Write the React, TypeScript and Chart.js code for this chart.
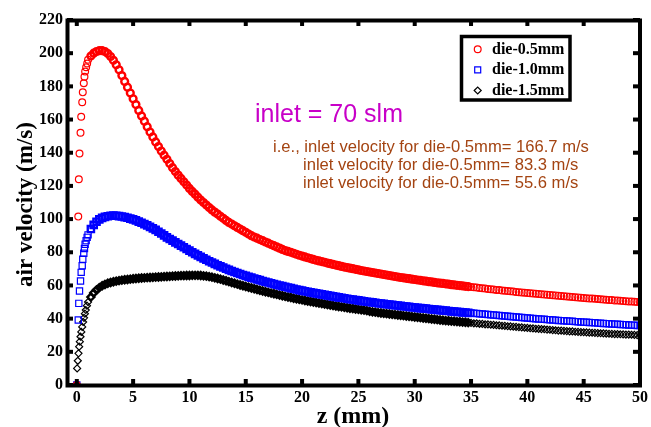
import React, { useEffect, useRef } from 'react';
import { Chart, registerables } from 'chart.js';

Chart.register(...registerables);

// ---- data ----
const xTickValues = [0, 5, 10, 15, 20, 25, 30, 35, 40, 45, 50];
const yTickValues = [0, 20, 40, 60, 80, 100, 120, 140, 160, 180, 200, 220];

const seriesNames = ['die-0.5mm', 'die-1.0mm', 'die-1.5mm'];

// early (near-inlet) positions, mm
const zEarlyRedBlue = [0, 0.13, 0.18, 0.24, 0.33, 0.39, 0.48, 0.53, 0.62, 0.68, 0.74, 0.83, 0.92];
const zEarlyBlack = [0, 0.03, 0.09, 0.15, 0.21, 0.27, 0.33, 0.4, 0.48, 0.56, 0.64, 0.72, 0.8, 0.9];

// main positions, mm
const zMain = [
  1, 1.25, 1.5, 1.75, 2, 2.25, 2.5, 2.75, 3, 3.25, 3.5, 3.75, 4, 4.25, 4.5, 4.75,
  5, 5.25, 5.5, 5.75, 6, 6.25, 6.5, 6.75, 7, 7.25, 7.5, 7.75, 8, 8.25, 8.5, 8.75,
  9, 9.25, 9.5, 9.75, 10, 10.25, 10.5, 10.75, 11, 11.25, 11.5, 11.75, 12, 12.25, 12.5, 12.75,
  13, 13.25, 13.5, 13.75, 14, 14.25, 14.5, 14.75, 15, 15.25, 15.5, 15.75, 16, 16.25, 16.5, 16.75,
  17, 17.25, 17.5, 17.75, 18, 18.25, 18.5, 18.75, 19, 19.25, 19.5, 19.75, 20, 20.25, 20.5, 20.75,
  21, 21.25, 21.5, 21.75, 22, 22.25, 22.5, 22.75, 23, 23.25, 23.5, 23.75, 24, 24.25, 24.5, 24.75,
  25, 25.25, 25.5, 25.75, 26, 26.25, 26.5, 26.75, 27, 27.25, 27.5, 27.75, 28, 28.25, 28.5, 28.75,
  29, 29.25, 29.5, 29.75, 30, 30.25, 30.5, 30.75, 31, 31.25, 31.5, 31.75, 32, 32.25, 32.5, 32.75,
  33, 33.25, 33.5, 33.75, 34, 34.25, 34.5, 34.75, 35, 35.25, 35.5, 35.75, 36, 36.25, 36.5, 36.75,
  37, 37.25, 37.5, 37.75, 38, 38.25, 38.5, 38.75, 39, 39.25, 39.5, 39.75, 40, 40.25, 40.5, 40.75,
  41, 41.25, 41.5, 41.75, 42, 42.25, 42.5, 42.75, 43, 43.25, 43.5, 43.75, 44, 44.25, 44.5, 44.75,
  45, 45.25, 45.5, 45.75, 46, 46.25, 46.5, 46.75, 47, 47.25, 47.5, 47.75, 48, 48.25, 48.5, 48.75,
  49, 49.25, 49.5, 49.75, 50,
];

// air velocity, m/s
const redEarly = [0, 101.5, 124, 139.5, 152, 161.7, 170.4, 176.4, 181.9, 185.8, 188.9, 191.5, 193.8];
const redMain = [
  196, 198.3, 200, 201, 201.5, 201.5, 201, 199.8, 198, 195.7, 193, 190, 186.5, 183, 179.5, 176,
  172.5, 169, 165.5, 162.2, 159, 155.7, 152.5, 149.5, 146.5, 143.7, 141, 138.5, 136, 133.5, 131, 128.7,
  126.5, 124.5, 122.5, 120.5, 118.5, 116.7, 115, 113.2, 111.5, 110, 108.5, 107, 105.5, 104.2, 103, 101.7,
  100.5, 99.2, 98, 97, 96, 95, 94, 93, 92, 91, 90, 89.2, 88.5, 87.7, 87, 86.2,
  85.5, 84.7, 84, 83.2, 82.5, 81.7, 81, 80.5, 80, 79.4, 78.8, 78.2, 77.7, 77.2, 76.7, 76.2,
  75.7, 75.2, 74.8, 74.4, 74, 73.5, 73.1, 72.7, 72.3, 71.9, 71.5, 71.1, 70.8, 70.4, 70.1, 69.7,
  69.4, 69.0, 68.7, 68.4, 68.1, 67.8, 67.5, 67.2, 66.9, 66.6, 66.3, 66.0, 65.7, 65.4, 65.1, 64.8,
  64.6, 64.3, 64.1, 63.8, 63.6, 63.3, 63.1, 62.8, 62.6, 62.3, 62.1, 61.8, 61.6, 61.4, 61.2, 61.0,
  60.8, 60.5, 60.3, 60.1, 59.9, 59.7, 59.5, 59.3, 59.1, 58.9, 58.7, 58.5, 58.3, 58.1, 57.9, 57.7,
  57.5, 57.3, 57.2, 57.0, 56.8, 56.6, 56.5, 56.3, 56.1, 55.9, 55.8, 55.6, 55.5, 55.3, 55.2, 55.0,
  54.9, 54.7, 54.6, 54.4, 54.3, 54.1, 54.0, 53.8, 53.7, 53.5, 53.4, 53.2, 53.1, 52.9, 52.8, 52.6,
  52.5, 52.3, 52.2, 52.1, 52.0, 51.8, 51.7, 51.5, 51.4, 51.3, 51.2, 51.0, 50.9, 50.8, 50.7, 50.5,
  50.4, 50.3, 50.2, 50.1, 50.0,
];

const blueEarly = [0, 39.2, 49.2, 56.7, 62.7, 67.9, 71.9, 75.8, 79.4, 82.3, 84.8, 87, 89];
const blueMain = [
  90.5, 94, 96.5, 98.4, 99.8, 100.7, 101.3, 101.7, 102, 102.1, 102, 101.8, 101.6, 101.2, 100.8, 100.3,
  99.8, 99.2, 98.5, 97.8, 97, 96.2, 95.3, 94.4, 93.5, 92.4, 91.3, 90.2, 89, 88, 87, 86,
  85, 84, 83, 82, 81, 80, 79, 78.1, 77.2, 76.3, 75.5, 74.6, 73.8, 73, 72.2, 71.5,
  70.8, 70.1, 69.4, 68.7, 68.1, 67.5, 66.9, 66.3, 65.8, 65.2, 64.7, 64.2, 63.7, 63.2, 62.7, 62.2,
  61.8, 61.3, 60.9, 60.4, 60, 59.6, 59.2, 58.8, 58.4, 58.0, 57.6, 57.2, 56.9, 56.5, 56.2, 55.8,
  55.5, 55.2, 54.9, 54.6, 54.3, 54.0, 53.7, 53.4, 53.1, 52.8, 52.6, 52.3, 52.0, 51.7, 51.5, 51.2,
  51.0, 50.7, 50.5, 50.2, 50.0, 49.8, 49.6, 49.3, 49.1, 48.9, 48.7, 48.5, 48.3, 48.1, 47.9, 47.7,
  47.5, 47.3, 47.1, 46.9, 46.7, 46.5, 46.3, 46.2, 46.0, 45.8, 45.6, 45.5, 45.3, 45.1, 44.9, 44.8,
  44.6, 44.4, 44.3, 44.1, 44.0, 43.8, 43.7, 43.5, 43.4, 43.2, 43.1, 42.9, 42.8, 42.6, 42.5, 42.3,
  42.2, 42.0, 41.9, 41.7, 41.6, 41.4, 41.3, 41.1, 41.0, 40.8, 40.7, 40.5, 40.4, 40.2, 40.1, 39.9,
  39.8, 39.7, 39.6, 39.4, 39.3, 39.2, 39.1, 38.9, 38.8, 38.7, 38.6, 38.5, 38.4, 38.2, 38.1, 38.0,
  37.9, 37.8, 37.7, 37.6, 37.5, 37.3, 37.2, 37.1, 37.0, 36.9, 36.8, 36.7, 36.6, 36.5, 36.4, 36.3,
  36.2, 36.1, 36.0, 35.9, 35.8,
];

const blackEarly = [0, 10, 14.6, 19.1, 23.1, 26.1, 29.1, 32, 35, 38, 40.5, 43, 45.2, 47.8];
const blackMain = [
  50, 53, 55.5, 57.3, 58.7, 59.8, 60.6, 61.3, 61.8, 62.2, 62.6, 62.9, 63.2, 63.4, 63.6, 63.8,
  64, 64.2, 64.3, 64.5, 64.6, 64.7, 64.8, 64.9, 65, 65.1, 65.2, 65.3, 65.4, 65.5, 65.6, 65.7,
  65.8, 65.9, 65.9, 66, 66, 66.1, 66.1, 66.1, 66, 65.8, 65.6, 65.3, 65, 64.6, 64.2, 63.8,
  63.3, 62.8, 62.3, 61.8, 61.3, 60.8, 60.3, 59.8, 59.4, 58.9, 58.5, 58.0, 57.6, 57.1, 56.7, 56.2,
  55.8, 55.4, 55, 54.6, 54.2, 53.8, 53.4, 53.0, 52.7, 52.3, 52.0, 51.6, 51.3, 50.9, 50.6, 50.3,
  50.0, 49.7, 49.4, 49.1, 48.8, 48.5, 48.2, 47.9, 47.6, 47.3, 47.1, 46.8, 46.6, 46.3, 46.1, 45.8,
  45.6, 45.3, 45.1, 44.8, 44.4, 44.1, 43.9, 43.6, 43.4, 43.2, 43.0, 42.8, 42.6, 42.4, 42.2, 42.0,
  41.8, 41.6, 41.4, 41.2, 41.0, 40.8, 40.6, 40.4, 40.2, 40.0, 39.8, 39.6, 39.4, 39.2, 39.0, 38.8,
  38.7, 38.5, 38.4, 38.2, 38.1, 37.9, 37.8, 37.6, 37.4, 37.2, 37.1, 36.9, 36.8, 36.6, 36.5, 36.3,
  36.2, 36.0, 35.9, 35.7, 35.6, 35.4, 35.3, 35.1, 35.0, 34.8, 34.7, 34.5, 34.4, 34.2, 34.1, 33.9,
  33.8, 33.7, 33.6, 33.4, 33.3, 33.1, 33.0, 32.8, 32.8, 32.6, 32.5, 32.3, 32.3, 32.1, 32.0, 31.9,
  31.8, 31.7, 31.6, 31.5, 31.4, 31.3, 31.2, 31.1, 31.0, 30.9, 30.8, 30.7, 30.7, 30.6, 30.5, 30.4,
  30.4, 30.3, 30.2, 30.1, 30.1,
];

const titleText = 'inlet = 70 slm';
const noteLines = [
  'i.e., inlet velocity for die-0.5mm= 166.7 m/s',
  'inlet velocity for die-0.5mm= 83.3 m/s',
  'inlet velocity for die-0.5mm= 55.6 m/s',
];
const xTitle = 'z (mm)';
const yTitle = 'air velocity (m/s)';

const SERIF = "'Liberation Serif', 'Times New Roman', serif";
const SANS = "'Liberation Sans', Arial, sans-serif";

function toPoints(zs: number[], vs: number[]) {
  return zs.map((z, i) => ({ x: z, y: vs[i] }));
}

// markers are plotted very densely between ~1 and ~35 mm in the original
const denseStroke = (c: any) => {
  const z = c.raw ? c.raw.x : 0;
  return z >= 1.2 && z <= 34.8 ? 2.4 : 1.2;
};

function drawMarker(ctx: CanvasRenderingContext2D, kind: string, x: number, y: number, color: string) {
  ctx.save();
  ctx.strokeStyle = color;
  ctx.lineWidth = 1.2;
  ctx.beginPath();
  if (kind === 'circle') {
    ctx.arc(x, y, 3.4, 0, Math.PI * 2);
  } else if (kind === 'rect') {
    ctx.rect(x - 3, y - 3, 6, 6);
  } else {
    ctx.moveTo(x - 3.5, y);
    ctx.lineTo(x, y - 3.5);
    ctx.lineTo(x + 3.5, y);
    ctx.lineTo(x, y + 3.5);
    ctx.closePath();
  }
  ctx.stroke();
  ctx.restore();
}

const decorPlugin = {
  id: 'decor',
  afterDraw(chart: any) {
    const ctx: CanvasRenderingContext2D = chart.ctx;
    const { left, right, top, bottom } = chart.chartArea;
    const xs = chart.scales.x;
    const ys = chart.scales.y;
    ctx.save();
    // frame
    ctx.strokeStyle = '#000';
    ctx.lineWidth = 4;
    ctx.strokeRect(left + 0.5, top + 0.5, right - left - 0.5, bottom - top);
    // inward ticks
    ctx.fillStyle = '#000';
    xTickValues.forEach((v) => {
      const px = xs.getPixelForValue(v);
      ctx.fillRect(px - 2, bottom - 6, 4, 6);
      ctx.fillRect(px - 2, top, 4, 6);
    });
    yTickValues.forEach((v) => {
      const py = ys.getPixelForValue(v);
      ctx.fillRect(left, py - 2, 6, 4);
      ctx.fillRect(right - 7, py - 2, 7, 4);
    });

    // axis titles
    ctx.fillStyle = '#000';
    ctx.font = `bold 24px ${SERIF}`;
    ctx.textAlign = 'center';
    ctx.textBaseline = 'alphabetic';
    ctx.fillText(xTitle, 353, 423);
    ctx.save();
    ctx.translate(31.5, 204.5);
    ctx.rotate(-Math.PI / 2);
    ctx.font = `bold 23px ${SERIF}`;
    ctx.fillText(yTitle, 0, 0);
    ctx.restore();

    // legend
    ctx.lineWidth = 3.5;
    ctx.strokeStyle = '#000';
    ctx.strokeRect(461.5, 36.5, 108.5, 63.5);
    const colors = ['#ff0000', '#0000ff', '#000000'];
    const kinds = ['circle', 'rect', 'diamond'];
    const rowY = [49.3, 69.8, 90.5];
    ctx.font = `bold 16px ${SERIF}`;
    ctx.textAlign = 'left';
    ctx.textBaseline = 'middle';
    seriesNames.forEach((name, i) => {
      drawMarker(ctx, kinds[i], 477.7, rowY[i], colors[i]);
      ctx.fillStyle = '#000';
      ctx.fillText(name, 492, rowY[i] + 0.5);
    });

    // annotations
    ctx.textBaseline = 'alphabetic';
    ctx.fillStyle = '#c800c8';
    ctx.font = `25px ${SANS}`;
    ctx.fillText(titleText, 255, 121.5);
    ctx.fillStyle = '#a44412';
    ctx.font = `16.6px ${SANS}`;
    ctx.fillText(noteLines[0], 273, 151.5);
    ctx.fillText(noteLines[1], 303, 169.5);
    ctx.fillText(noteLines[2], 303, 187.5);
    ctx.restore();
  },
};

export default function App() {
  const ref = useRef<HTMLCanvasElement>(null);
  useEffect(() => {
    document.body.style.margin = '0';
    const canvas = ref.current;
    if (!canvas) return;
    const chart = new Chart(canvas, {
      type: 'scatter',
      data: {
        datasets: [
          {
            label: seriesNames[0],
            data: toPoints(zEarlyRedBlue.concat(zMain), redEarly.concat(redMain)),
            pointStyle: 'circle',
            pointRadius: 3.4,
            borderColor: '#ff0000',
            backgroundColor: 'rgba(0,0,0,0)',
            pointBorderWidth: denseStroke,
            showLine: false,
          },
          {
            label: seriesNames[1],
            data: toPoints(zEarlyRedBlue.concat(zMain), blueEarly.concat(blueMain)),
            pointStyle: 'rect',
            pointRadius: 4.4,
            borderColor: '#0000ff',
            backgroundColor: 'rgba(0,0,0,0)',
            pointBorderWidth: denseStroke,
            showLine: false,
          },
          {
            label: seriesNames[2],
            data: toPoints(zEarlyBlack.concat(zMain), blackEarly.concat(blackMain)),
            pointStyle: 'rectRot',
            pointRadius: 3.5,
            borderColor: '#000000',
            backgroundColor: 'rgba(0,0,0,0)',
            pointBorderWidth: denseStroke,
            showLine: false,
          },
        ],
      },
      options: {
        animation: false,
        responsive: false,
        devicePixelRatio: 1,
        events: [],
        layout: { padding: { left: 0, right: 9, top: 20, bottom: 0 } },
        plugins: {
          legend: { display: false },
          tooltip: { enabled: false },
        },
        scales: {
          x: {
            type: 'linear',
            min: -0.87,
            max: 50,
            grid: { display: false, drawTicks: false },
            border: { display: false },
            ticks: {
              padding: 3,
              color: '#000',
              font: { family: SERIF, size: 16, weight: 'bold' },
              autoSkip: false,
              maxRotation: 0,
            },
            afterBuildTicks: (scale: any) => {
              scale.ticks = xTickValues.map((v) => ({ value: v }));
            },
            afterFit: (scale: any) => {
              scale.height = 42;
            },
          },
          y: {
            type: 'linear',
            min: 0,
            max: 220,
            grid: { display: false, drawTicks: false },
            border: { display: false },
            ticks: {
              padding: 4,
              color: '#000',
              font: { family: SERIF, size: 16, weight: 'bold' },
              autoSkip: false,
            },
            afterBuildTicks: (scale: any) => {
              scale.ticks = yTickValues.map((v) => ({ value: v }));
            },
            afterFit: (scale: any) => {
              scale.width = 67;
            },
          },
        },
      },
      plugins: [decorPlugin],
    } as any);
    return () => chart.destroy();
  }, []);
  return (
    <canvas
      ref={ref}
      width={651}
      height={427}
      style={{ display: 'block', width: 651, height: 427 }}
    />
  );
}
